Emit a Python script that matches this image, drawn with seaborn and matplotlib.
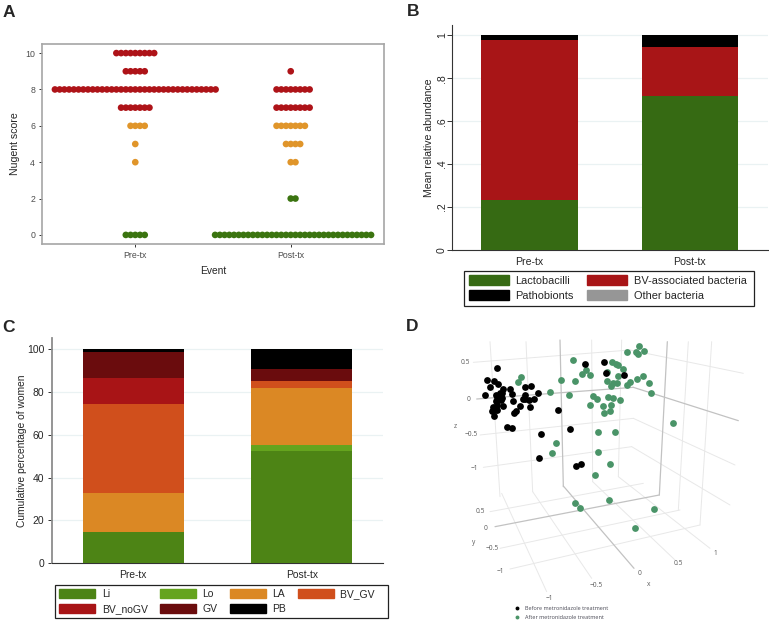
import numpy as np
import pandas as pd
import matplotlib
matplotlib.use('Agg')
import matplotlib.pyplot as plt
from matplotlib.patches import Patch
from matplotlib.lines import Line2D
import seaborn as sns

sns.set_style('white')
plt.rcParams['font.family'] = ['Liberation Sans', 'DejaVu Sans']

W, H = 769, 620

# ---- panel A: dots per Nugent score
events = ['Pre-tx', 'Post-tx']
scores = [10, 9, 8, 7, 6, 5, 4, 2, 0]
pre_counts = [9, 5, 35, 7, 4, 1, 1, 0, 5]
post_counts = [0, 1, 8, 8, 7, 4, 2, 2, 34]
score_groups = ['BV', 'BV', 'BV', 'BV', 'Intermediate', 'Intermediate', 'Intermediate', 'Normal', 'Normal']
a_colors = {'BV': '#ae1318', 'Intermediate': '#e0952a', 'Normal': '#3b7410'}

# ---- panel B: mean relative abundance
b_names = ['Lactobacilli', 'BV-associated bacteria', 'Pathobionts']
lacto = [0.234, 0.718]
bv_assoc = [0.746, 0.228]
pathobionts = [0.020, 0.054]
b_colors = ['#366a13', '#a81517', '#000000']
other_color = '#969696'

# ---- panel C: cumulative percentage of women
c_names = ['Li', 'Lo', 'LA', 'BV_GV', 'BV_noGV', 'GV', 'PB']
c_pre = [14.8, 0, 18.0, 41.7, 12.1, 11.8, 1.6]
c_post = [52.4, 2.8, 26.8, 3.1, 0, 5.7, 9.2]
c_colors = ['#4d8415', '#65a41e', '#db8824', '#d04f1c', '#a81416', '#6a0c0d', '#000000']

# ---- panel D: projected positions of the 3D scatter
before_x = [170, 141, 162, 151, 175, 188, 135, 168, 180, 172, 186, 187, 210, 217, 255, 272,
            254, 295, 255, 220, 268, 283, 248, 168, 184, 190, 170, 160, 155, 170, 163, 222,
            227, 241, 270, 200, 215, 355, 304, 389, 296, 409, 423, 434, 492, 497, 551, 165]
before_y = [115, 150, 153, 170, 163, 178, 195, 195, 188, 200, 190, 205, 178, 192, 170, 169,
            195, 188, 208, 212, 210, 207, 208, 213, 210, 227, 225, 230, 242, 240, 257, 250,
            243, 229, 232, 290, 294, 239, 311, 298, 385, 407, 401, 101, 97, 130, 135, 240]
after_x = [243, 234, 331, 363, 388, 400, 405, 427, 438, 451, 458, 470, 451, 489, 513, 491,
           511, 505, 518, 541, 501, 500, 512, 520, 532, 533, 517, 527, 535, 549, 561, 587,
           595, 596, 613, 591, 571, 562, 609, 628, 634, 700, 474, 526, 475, 348, 335, 510,
           465, 404, 420, 506, 642, 585]
after_y = [142, 157, 187, 150, 194, 91, 153, 133, 120, 134, 199, 208, 225, 227, 225, 249,
           242, 202, 205, 210, 125, 152, 167, 160, 158, 139, 97, 103, 106, 116, 66, 67,
           72, 48, 64, 146, 156, 166, 138, 159, 189, 278, 307, 305, 366, 340, 368, 401,
           435, 518, 533, 510, 536, 595]

# wireframe of the 3D box: (x0, y0, x1, y1)
grid_light = [
    (150, 35, 180, 500), (258, 35, 278, 485), (455, 30, 458, 455), (545, 30, 535, 440),
    (745, 35, 715, 540), (815, 35, 780, 585),
    (100, 97, 570, 60), (570, 60, 910, 130), (120, 315, 580, 265), (580, 265, 885, 405),
    (130, 412, 575, 350), (575, 350, 870, 525),
    (150, 545, 610, 460), (180, 655, 720, 540), (210, 717, 780, 585),
    (185, 490, 320, 785), (278, 485, 455, 745), (458, 455, 705, 690), (535, 440, 810, 655),
]
grid_dark = [
    (360, 30, 370, 470), (682, 35, 658, 495), (110, 207, 580, 172), (580, 172, 895, 272),
    (165, 590, 658, 495), (370, 468, 582, 715),
]
d_labels = [
    ('0.5', 75, 97), ('0', 85, 208), ('\u22120.5', 93, 315), ('\u22121', 102, 417), ('z', 47, 290),
    ('0.5', 122, 545), ('0', 137, 595), ('\u22120.5', 157, 655), ('\u22121', 182, 725), ('y', 100, 638),
    ('0', 598, 731), ('0.5', 716, 700), ('1', 825, 671), ('\u22120.5', 468, 767), ('\u22121', 327, 805),
    ('x', 627, 762),
]


def make_axes(left, top, right, bottom):
    # axes box given in image pixels
    return fig.add_axes([left / W, 1 - bottom / H, (right - left) / W, (bottom - top) / H])


def box_legend(ax, handles, labels, ncols, box, fontsize, hlen):
    left, top, right, bottom = box
    leg = ax.legend(handles, labels, ncols=ncols, mode='expand', loc='lower left',
                    bbox_to_anchor=(left / W, 1 - bottom / H, (right - left) / W, (bottom - top) / H),
                    bbox_transform=fig.transFigure, fontsize=fontsize, frameon=True, fancybox=False,
                    edgecolor='#222222', framealpha=1, handlelength=hlen, handleheight=1.0,
                    handletextpad=0.6, labelspacing=0.42, borderpad=0.42, borderaxespad=0,
                    columnspacing=0.5)
    leg.get_frame().set_linewidth(0.9)
    return leg


def stacked_bars(ax, pre, post, colors):
    bottom = np.zeros(2)
    for p, q, c in zip(pre, post, colors):
        vals = np.array([p, q])
        sns.barplot(x=events, y=vals, bottom=bottom, color=c, saturation=1, width=0.6,
                    ax=ax, linewidth=0, zorder=3)
        bottom = bottom + vals


fig = plt.figure(figsize=(W / 100, H / 100), dpi=100)

# %% A
rows = []
for ev, counts in enumerate([pre_counts, post_counts]):
    for sc, grp, n in zip(scores, score_groups, counts):
        for i in range(n):
            rows.append((ev + (i - (n - 1) // 2) * 0.0304, sc, grp))
dots = pd.DataFrame(rows, columns=['pos', 'score', 'group'])

ax = make_axes(42, 44, 384, 244)
sns.scatterplot(data=dots, x='pos', y='score', hue='group', palette=a_colors, s=23,
                linewidth=0, legend=False, ax=ax, zorder=3)
ax.set_xlim(-0.6, 1.6)
ax.set_ylim(-0.5, 10.5)
ax.set_xticks([0, 1], events)
ax.set_yticks(range(0, 11, 2))
ax.tick_params(length=2.5, width=0.7, color='#333333', labelcolor='#4d4d4d', labelsize=6.3,
               bottom=True, left=True, pad=2.5)
ax.set_xlabel('Event', fontsize=7.4, labelpad=4.3)
ax.set_ylabel('Nugent score', fontsize=7.6, labelpad=4)
for s in ax.spines.values():
    s.set_color('#a6a6a6')
    s.set_linewidth(1.2)

# %% B
ax = make_axes(451.7, 25, 768, 250)
stacked_bars(ax, [lacto[0], bv_assoc[0], pathobionts[0]], [lacto[1], bv_assoc[1], pathobionts[1]], b_colors)
ax.set_xlim(-0.486, 1.49)
ax.set_ylim(0, 1.048)
ax.set_yticks([0, .2, .4, .6, .8, 1], ['0', '.2', '.4', '.6', '.8', '1'], rotation=90, va='center')
ax.grid(axis='y', color='#eaf2f3', lw=0.9)
ax.set_axisbelow(True)
ax.tick_params(axis='y', length=3.4, width=0.7, color='#333333', labelsize=7.6, left=True, pad=0)
ax.tick_params(axis='x', length=0, labelsize=7.6, pad=4.8)
ax.set_ylabel('Mean relative abundance', fontsize=7.6, labelpad=2)
sns.despine(ax=ax, top=True, right=True)
for s in ['left', 'bottom']:
    ax.spines[s].set_color('#333333')
    ax.spines[s].set_linewidth(0.8)
b_handles = [Patch(color=b_colors[0]), Patch(color=b_colors[2]), Patch(color=b_colors[1]), Patch(color=other_color)]
box_legend(ax, b_handles, ['Lactobacilli', 'Pathobionts', 'BV-associated bacteria ', 'Other bacteria'],
           2, (464.3, 271, 754.3, 305.7), 7.9, 3.65)

# %% C
ax = make_axes(51.7, 338, 383, 563.3)
stacked_bars(ax, c_pre, c_post, c_colors)
ax.set_xlim(-0.483, 1.482)
ax.set_ylim(0, 105.1)
ax.set_yticks(range(0, 101, 20))
ax.grid(axis='y', color='#eaf2f3', lw=0.9)
ax.set_axisbelow(True)
ax.tick_params(axis='y', length=3.2, width=0.7, color='#333333', labelsize=7.5, left=True, pad=2)
ax.tick_params(axis='x', length=0, labelsize=7.4, pad=4.8)
ax.set_ylabel('Cumulative percentage of women', fontsize=7.4, labelpad=0.4)
sns.despine(ax=ax, top=True, right=True)
ax.spines['left'].set_color('#8c8c8c')
ax.spines['left'].set_linewidth(1.3)
ax.spines['bottom'].set_color('#333333')
ax.spines['bottom'].set_linewidth(0.8)
order = [0, 4, 1, 5, 2, 6, 3]
c_labels = [c_names[i] for i in order]
c_labels[-1] = 'BV_GV   '  # leaves the room on the right of the last column
box_legend(ax, [Patch(color=c_colors[i]) for i in order], c_labels,
           4, (55, 584.3, 387.7, 618.3), 7.5, 3.46)

# %% D
ax = make_axes(440, 330, 769, 620)
ax.set_xlim(0, 987)
ax.set_ylim(870, 0)
ax.axis('off')
for x0, y0, x1, y1 in grid_light:
    ax.plot([x0, x1], [y0, y1], color='#e8e8e8', lw=0.7, zorder=1)
for x0, y0, x1, y1 in grid_dark:
    ax.plot([x0, x1], [y0, y1], color='#c2c2c2', lw=0.9, zorder=1)
for txt, x, y in d_labels:
    ax.text(x, y, txt, ha='center', va='center', fontsize=4.8, color='#5a5a5a', family='Open Sans')
sns.scatterplot(x=after_x, y=after_y, color='#4a9468', s=24, linewidth=0, ax=ax, zorder=3)
sns.scatterplot(x=before_x, y=before_y, color='black', s=24, linewidth=0, ax=ax, zorder=4)
ax.set_xlim(0, 987)
ax.set_ylim(870, 0)
d_handles = [Line2D([], [], ls='', marker='o', ms=2.8, color='black', mew=0),
             Line2D([], [], ls='', marker='o', ms=2.8, color='#4a9468', mew=0)]
ax.legend(d_handles, ['Before metronidazole treatment', 'After metronidazole treatment'],
          loc='upper left', bbox_to_anchor=(512 / W, 1 - 605.5 / H), bbox_transform=fig.transFigure,
          frameon=False, prop={'family': 'Open Sans', 'size': 4.0}, labelcolor='#4a4a55',
          handletextpad=0.55, labelspacing=0.75, borderpad=0, borderaxespad=0, handlelength=1.8)

# panel letters
for letter, x, y in [('A', 2.5, 17), ('B', 406.5, 16), ('C', 2, 331.5), ('D', 405.5, 331)]:
    fig.text(x / W, 1 - y / H, letter, fontsize=12.5, fontweight='bold', ha='left', va='baseline')

fig.savefig('out.png', dpi=100)
